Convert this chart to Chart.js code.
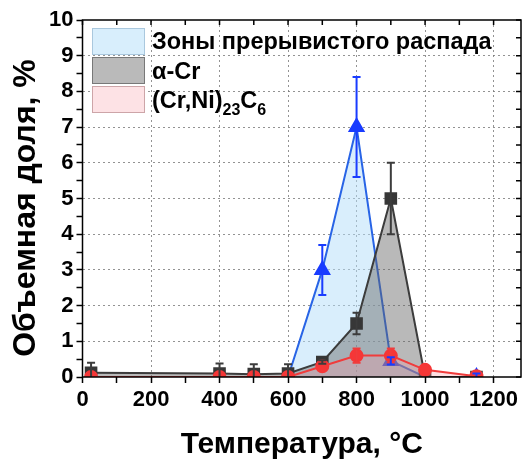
<!DOCTYPE html>
<html>
<head>
<meta charset="utf-8">
<script src="https://cdn.jsdelivr.net/npm/chart.js@4"></script>
<style>
  html, body { margin: 0; padding: 0; background: #fff; }
  #wrap { width: 524px; height: 459px; }
</style>
</head>
<body>
<div id="wrap"><canvas id="chart" width="524" height="459"></canvas></div>
<script>
// данные
const tempBlue = [600, 700, 800, 900, 1000, 1150];
const zonesVal = [0, 3.0, 7.0, 0.45, 0, 0];
const zonesErr = [0, 0.7, 1.4, 0.1, 0, 0.1];

const tempGray = [25, 400, 500, 600, 700, 800, 900, 1000, 1150];
const crVal = [0.12, 0.1, 0.08, 0.1, 0.42, 1.5, 5.0, 0, 0];
const crErr = [0.28, 0.28, 0.28, 0.26, 0.05, 0.3, 1.0, 0, 0];

const tempRed = [25, 400, 500, 600, 700, 800, 900, 1000, 1150];
const carbVal = [0, 0, 0, 0, 0.3, 0.6, 0.6, 0.2, 0.02];
const carbErr = [0, 0, 0, 0, 0, 0.2, 0.2, 0, 0];

const xTicks = [0, 100, 200, 300, 400, 500, 600, 700, 800, 900, 1000, 1100, 1200];
const yTicks = [0, 0.5, 1, 1.5, 2, 2.5, 3, 3.5, 4, 4.5, 5, 5.5, 6, 6.5, 7, 7.5, 8, 8.5, 9, 9.5, 10];

const FONT = '"Liberation Sans", Arial, sans-serif';

function toPoints(xs, ys) {
  return xs.map((x, i) => ({ x: x, y: ys[i] }));
}

// усы погрешностей
const errorBars = {
  id: 'errorBars',
  afterDatasetsDraw(chart) {
    const ctx = chart.ctx;
    const xs = chart.scales.x, ys = chart.scales.y;
    chart.data.datasets.forEach(ds => {
      if (!ds.err) return;
      ctx.save();
      ctx.strokeStyle = ds.errColor;
      ctx.lineWidth = 2;
      ds.data.forEach((p, i) => {
        const e = ds.err[i];
        if (!e) return;
        const px = xs.getPixelForValue(p.x);
        const top = ys.getPixelForValue(p.y + e);
        const bot = ys.getPixelForValue(Math.max(p.y - e, 0));
        ctx.beginPath();
        ctx.moveTo(px, top); ctx.lineTo(px, bot);
        ctx.moveTo(px - 4, top); ctx.lineTo(px + 4, top);
        if (p.y - e > 0) { ctx.moveTo(px - 4, bot); ctx.lineTo(px + 4, bot); }
        ctx.stroke();
      });
      ctx.restore();
    });
  }
};

// рамка, зеркальные штрихи, подписи осей и легенда
const decor = {
  id: 'decor',
  afterDraw(chart) {
    const ctx = chart.ctx;
    const a = chart.chartArea;
    const xs = chart.scales.x, ys = chart.scales.y;
    ctx.save();
    ctx.strokeStyle = '#000';
    ctx.lineWidth = 1.5;
    ctx.strokeRect(a.left, a.top, a.right - a.left, a.bottom - a.top);
    ctx.beginPath();
    xTicks.forEach(v => {
      const px = xs.getPixelForValue(v);
      ctx.moveTo(px, a.top); ctx.lineTo(px, a.top + 5);
    });
    yTicks.forEach(v => {
      const py = ys.getPixelForValue(v);
      ctx.moveTo(a.right, py); ctx.lineTo(a.right - 5, py);
    });
    ctx.stroke();

    // подписи осей
    ctx.fillStyle = '#000';
    ctx.textAlign = 'center';
    ctx.textBaseline = 'alphabetic';
    ctx.font = 'bold 30px ' + FONT;
    ctx.fillText('Температура, °C', (a.left + a.right) / 2, 453);
    ctx.save();
    ctx.translate(35, 208);
    ctx.rotate(-Math.PI / 2);
    ctx.font = 'bold 32px ' + FONT;
    ctx.fillText('Объемная доля, %', 0, 0);
    ctx.restore();

    // легенда
    const boxes = [
      { y: 28, fill: 'rgb(216,238,252)', line: 'rgb(170,200,222)' },
      { y: 57, fill: 'rgb(186,186,186)', line: 'rgb(120,120,120)' },
      { y: 86, fill: 'rgb(253,226,229)', line: 'rgb(205,165,168)' }
    ];
    boxes.forEach(b => {
      ctx.fillStyle = b.fill;
      ctx.fillRect(92, b.y, 52, 26);
      ctx.strokeStyle = b.line;
      ctx.lineWidth = 1;
      ctx.strokeRect(92.5, b.y + 0.5, 52, 26);
    });
    ctx.fillStyle = '#000';
    ctx.textAlign = 'left';
    const big = 'bold 23.5px ' + FONT, small = 'bold 16px ' + FONT;
    ctx.font = big;
    ctx.fillText('Зоны прерывистого распада', 152, 49);
    ctx.fillText('α-Cr', 152, 79);
    let x = 152;
    const parts = [['(Cr,Ni)', big, 108], ['23', small, 115], ['C', big, 108], ['6', small, 115]];
    parts.forEach(p => {
      ctx.font = p[1];
      ctx.fillText(p[0], x, p[2]);
      x += ctx.measureText(p[0]).width;
    });
    ctx.restore();
  }
};

const gridColor = ctx => {
  const v = ctx.tick.value;
  return (v % 1 === 0 && v > 0 && v < 10) ? 'rgba(120,120,120,0.8)' : 'rgba(0,0,0,0)';
};
const xGridColor = ctx => {
  const v = ctx.tick.value;
  return (v % 200 === 0 && v > 0) ? 'rgba(120,120,120,0.8)' : 'rgba(0,0,0,0)';
};

new Chart(document.getElementById('chart'), {
  type: 'line',
  data: {
    datasets: [
      {
        label: '(Cr,Ni)23C6',
        data: toPoints(tempRed, carbVal),
        err: carbErr,
        errColor: 'rgb(240,60,60)',
        borderColor: 'rgb(240,60,60)',
        borderWidth: 2,
        backgroundColor: 'rgba(250,150,160,0.3)',
        fill: 'origin',
        pointStyle: 'circle',
        pointRadius: 6,
        pointBackgroundColor: 'rgb(245,55,55)',
        pointBorderColor: 'rgb(245,55,55)',
        tension: 0
      },
      {
        label: 'α-Cr',
        data: toPoints(tempGray, crVal),
        err: crErr,
        errColor: 'rgb(60,60,60)',
        borderColor: 'rgb(60,60,60)',
        borderWidth: 2,
        backgroundColor: 'rgba(100,100,100,0.45)',
        fill: 'origin',
        pointStyle: 'rect',
        pointRadius: 7.5,
        pointBackgroundColor: 'rgb(55,55,55)',
        pointBorderColor: 'rgb(55,55,55)',
        tension: 0
      },
      {
        label: 'Зоны прерывистого распада',
        data: toPoints(tempBlue, zonesVal),
        err: zonesErr,
        errColor: 'rgb(25,60,255)',
        borderColor: 'rgb(40,100,230)',
        borderWidth: 2,
        backgroundColor: 'rgba(180,222,250,0.5)',
        fill: 'origin',
        pointStyle: 'triangle',
        pointRadius: 8,
        pointBackgroundColor: 'rgb(25,60,255)',
        pointBorderColor: 'rgb(25,60,255)',
        tension: 0
      }
    ]
  },
  options: {
    responsive: false,
    animation: false,
    layout: { autoPadding: false, padding: { top: 20, right: 3, left: 0, bottom: 0 } },
    plugins: { legend: { display: false }, tooltip: { enabled: false } },
    scales: {
      x: {
        type: 'linear',
        min: 0,
        max: 1280,
        afterBuildTicks: s => { s.ticks = xTicks.map(v => ({ value: v })); },
        afterFit: s => { s.height = 82; s.paddingLeft = 0; s.paddingRight = 0; },
        border: { display: false, dash: [2, 3] },
        grid: { color: xGridColor, lineWidth: 1, tickLength: 6, tickColor: '#000', tickWidth: 1.5 },
        ticks: {
          padding: 4,
          maxRotation: 0,
          autoSkip: false,
          color: '#000',
          font: { family: FONT, size: 22, weight: 'bold' },
          callback: v => (v % 200 === 0 ? String(v) : '')
        }
      },
      y: {
        min: 0,
        max: 10,
        afterBuildTicks: s => { s.ticks = yTicks.map(v => ({ value: v })); },
        afterFit: s => { s.width = 82.5; s.paddingTop = 0; s.paddingBottom = 0; },
        border: { display: false, dash: [2, 3] },
        grid: { color: gridColor, lineWidth: 1, tickLength: 6, tickColor: '#000', tickWidth: 1.5 },
        ticks: {
          padding: 3,
          autoSkip: false,
          color: '#000',
          font: { family: FONT, size: 22, weight: 'bold' },
          callback: v => (v % 1 === 0 ? String(v) : '')
        }
      }
    }
  },
  plugins: [errorBars, decor]
});
</script>
</body>
</html>
